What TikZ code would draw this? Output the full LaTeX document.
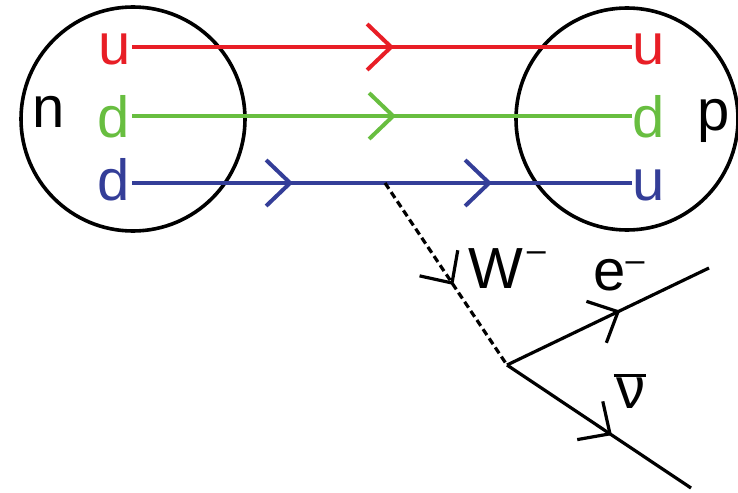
\documentclass[tikz,border=0pt]{standalone}
\usepackage{fontspec}
\setmainfont{Liberation Sans}
\usetikzlibrary{arrows.meta,decorations.markings}
\definecolor{quarkred}{RGB}{232,30,38}
\definecolor{quarkgreen}{RGB}{104,190,64}
\definecolor{quarkblue}{RGB}{52,62,152}
\newcommand{\supminus}[1]{\raisebox{#1}{\fontsize{34}{34}\selectfont --}}

\begin{document}
\begin{tikzpicture}[x=1pt,y=-1pt,font=\fontsize{58}{60}\selectfont,
	barb/.style={postaction={decorate,decoration={markings,
		mark=at position #1 with {\arrow{Straight Barb[length=24pt,width=46pt]}}}}},
	quark/.style={line width=4pt},
	lepton/.style={line width=3.2pt}]

	\useasboundingbox (0,0) rectangle (738,492);

	% nucleons
	\draw[line width=3.6pt] (133,119) circle (112);
	\draw[line width=3.6pt] (627,119) circle (111);
	\node[anchor=base] (nN) at (49,128) {n};
	\node[anchor=base] (pN) at (714,130) {p};

	% quark lines
	\coordinate (a1) at (132,47);  \coordinate (b1) at (632,47);
	\coordinate (a2) at (132,116); \coordinate (b2) at (632,116);
	\coordinate (a3) at (132,183); \coordinate (b3) at (632,183);

	\node[anchor=base,text=quarkred] (qa1) at (115,65) {u};
	\node[anchor=base,text=quarkgreen] (qa2) at (114,137) {d};
	\node[anchor=base,text=quarkblue] (qa3) at (114,200) {d};
	\node[anchor=base,text=quarkred] (qb1) at (649,65) {u};
	\node[anchor=base,text=quarkgreen] (qb2) at (649,137) {d};
	\node[anchor=base,text=quarkblue] (qb3) at (649,200) {u};

	\draw[quark,quarkred,barb=0.524] (a1)--(b1);
	\draw[quark,quarkgreen,barb=0.528] (a2)--(b2);
	\draw[quark,quarkblue,barb=0.322,barb=0.72] (a3)--(b3);

	% W and decay
	\coordinate (W) at (385,183);
	\coordinate (V) at (507,365);
	\coordinate (E) at (709,268);
	\coordinate (N) at (691,488);

	\draw[lepton,dash pattern=on 7pt off 4pt,barb=0.56] (W)--(V);
	\draw[lepton,barb=0.56] (V)--(E);
	\draw[lepton,barb=0.57] (V)--(N);

	\node[anchor=base] (wN) at (507,288) {W\hspace{4pt}\supminus{27pt}};
	\node[anchor=base] (eN) at (619,290) {e\supminus{19pt}};
	\node[anchor=base] (vN) at (631,408) {\makebox[0pt][l]{\hspace{-3pt}\rule[31pt]{32pt}{3.2pt}}ν};

\end{tikzpicture}
\end{document}
